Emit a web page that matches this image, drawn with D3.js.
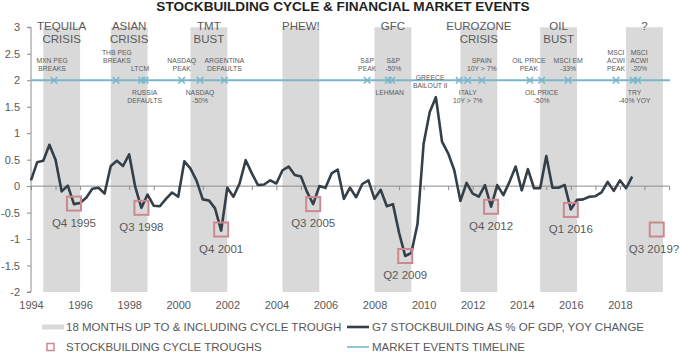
<!DOCTYPE html>
<html>
<head>
<meta charset="utf-8">
<script src="https://cdn.jsdelivr.net/npm/d3@7"></script>
<style>
  html, body { margin: 0; padding: 0; background: #fff; }
  svg { display: block; font-family: 'Liberation Sans', Arial, sans-serif; }
</style>
</head>
<body>
<div id="chart"></div>
<script>
// stockbuilding chart — G7 inventory cycle vs market events

// quarterly series, first value = 1994 Q1
const firstYear = 1994;
const stockbuilding = [
  0.11, 0.45, 0.48, 0.78, 0.50, -0.10, 0.01, -0.34,     // 1994-1995
  -0.32, -0.22, -0.05, -0.03, -0.14, 0.38, 0.48, 0.38,  // 1996-1997
  0.60, -0.02, -0.41, -0.16, -0.37, -0.38, -0.24, -0.12, // 1998-1999
  -0.20, 0.47, 0.33, 0.10, -0.25, -0.27, -0.42, -0.84,  // 2000-2001
  -0.03, -0.20, 0.05, 0.49, 0.24, 0.02, 0.03, 0.11,     // 2002-2003
  0.05, 0.30, 0.37, 0.21, 0.18, -0.11, -0.34, 0.00,     // 2004-2005
  -0.03, 0.24, 0.31, -0.24, -0.03, -0.21, 0.04, 0.11,   // 2006-2007
  -0.24, -0.07, -0.38, -0.34, -0.88, -1.32, -1.26, -0.72, // 2008-2009
  0.80, 1.40, 1.68, 0.84, 0.62, 0.30, -0.28, 0.06,      // 2010-2011
  -0.14, -0.20, 0.02, -0.39, 0.02, -0.17, 0.08, 0.37,   // 2012-2013
  -0.08, 0.32, -0.04, -0.04, 0.57, -0.03, -0.03, 0.02,  // 2014-2015
  -0.44, -0.26, -0.25, -0.20, -0.19, -0.12, 0.08, -0.09, // 2016-2017
  0.11, -0.04, 0.18                                     // 2018
];

// cycle troughs
const troughQuarters = ['Q4 1995', 'Q3 1998', 'Q4 2001', 'Q3 2005', 'Q2 2009', 'Q4 2012', 'Q1 2016', 'Q3 2019?'];
const troughValues = [-0.33, -0.41, -0.82, -0.34, -1.32, -0.39, -0.45, -0.82];
const cycleNames = [
  ['TEQUILA', 'CRISIS'], ['ASIAN', 'CRISIS'], ['TMT', 'BUST'], ['PHEW!'],
  ['GFC'], ['EUROZONE', 'CRISIS'], ['OIL', 'BUST'], ['?']
];

// market events on the timeline (decimal year)
const eventDates = [
  1994.94, 1997.46, 1998.51, 1998.65, 2000.14, 2000.89, 2001.88,
  2007.70, 2008.56, 2008.70, 2011.45, 2011.80, 2012.37,
  2014.33, 2014.81, 2015.89, 2017.84, 2018.54, 2018.72
];
const eventNames = [
  ['MXN PEG', 'BREAKS'], ['THB PEG', 'BREAKS'], ['RUSSIA', 'DEFAULTS'], ['LTCM'],
  ['NASDAQ', 'PEAK'], ['NASDAQ', '-50%'], ['ARGENTINA', 'DEFAULTS'],
  ['S&P', 'PEAK'], ['S&P', '-50%'], ['LEHMAN'], ['GREECE', 'BAILOUT II'],
  ['ITALY', '10Y > 7%'], ['SPAIN', '10Y > 7%'],
  ['OIL PRICE', 'PEAK'], ['OIL PRICE', '-50%'], ['MSCI EM', '-33%'],
  ['MSCI', 'ACWI', 'PEAK'], ['MSCI', 'ACWI', '-20%'], ['TRY', '-40% YOY']
];
const timelineLevel = 2;

// axes
const yTicks = [3, 2.5, 2, 1.5, 1, 0.5, 0, -0.5, -1, -1.5, -2];
const xLabelYears = [1994, 1996, 1998, 2000, 2002, 2004, 2006, 2008, 2010, 2012, 2014, 2016, 2018];

const legendItems = [
  '18 MONTHS UP TO & INCLUDING CYCLE TROUGH',
  'G7 STOCKBUILDING AS % OF GDP, YOY CHANGE',
  'STOCKBUILDING CYCLE TROUGHS',
  'MARKET EVENTS TIMELINE'
];

// label placement for the events: where the text sits against the marker
// pos: 'up' = above the line, 'down' = below, 'mid' = across the line
// lift: extra lines to push an 'up' label higher (avoid overlaps)
const eventPlacement = [
  { pos: 'up', dx: -2 }, { pos: 'up', dx: 1, lift: 1 }, { pos: 'down', dx: 3 }, { pos: 'up', dx: -5 },
  { pos: 'up', dx: 0 }, { pos: 'down', dx: 0 }, { pos: 'up', dx: 0 },
  { pos: 'up', dx: 0 }, { pos: 'up', dx: 5 }, { pos: 'down', dx: -2 }, { pos: 'mid', dx: -29 },
  { pos: 'down', dx: 0 }, { pos: 'up', dx: 0 },
  { pos: 'up', dx: -1 }, { pos: 'down', dx: 0 }, { pos: 'up', dx: 0 },
  { pos: 'up', dx: 0 }, { pos: 'up', dx: 6 }, { pos: 'down', dx: -3 }
];

const CONFIG = {
  WIDTH: 680,
  HEIGHT: 354,
  LEFT: 31,
  RIGHT: 669,
  TOP: 27.3,
  BOTTOM: 292,

  TEXT: '#595959',
  AXIS: '#8c8c8c',
  BAND: '#d9d9d9',
  LINE: '#353f47',
  TROUGH: '#cc8890',
  TIMELINE: '#7ab6c9',
};

const svg = d3.select('#chart').append('svg')
  .attr('width', CONFIG.WIDTH)
  .attr('height', CONFIG.HEIGHT);

const x = d3.scaleLinear().domain([1994, 2020]).range([CONFIG.LEFT, CONFIG.RIGHT]);
const y = d3.scaleLinear().domain([-2, 3]).range([CONFIG.BOTTOM, CONFIG.TOP]);

// "Q4 1995" -> 1995.75 (start of the quarter)
function quarterToYear(q) {
  const m = q.match(/Q(\d) (\d{4})/);
  return +m[2] + (+m[1] - 1) / 4;
}
const troughYears = troughQuarters.map(quarterToYear);

// shaded 18-month windows ending with the trough quarter
svg.append('g')
  .selectAll('rect')
  .data(troughYears)
  .join('rect')
  .attr('x', t => x(t + 0.25 - 1.5))
  .attr('width', t => x(t + 0.25) - x(t + 0.25 - 1.5))
  .attr('y', y(3))
  .attr('height', y(-2) - y(3))
  .attr('fill', CONFIG.BAND);

// y axis
const yAxis = svg.append('g')
  .attr('transform', `translate(${CONFIG.LEFT},0)`)
  .call(d3.axisLeft(y).tickValues(yTicks).tickSize(4).tickPadding(7).tickFormat(d => String(d)));
yAxis.select('.domain').attr('stroke', CONFIG.AXIS).attr('d', `M-4,${y(-2)}H0V${y(3)}H-4`);
yAxis.selectAll('.tick line').attr('stroke', CONFIG.AXIS);
yAxis.selectAll('.tick text')
  .attr('fill', CONFIG.TEXT)
  .style('font-size', '11px');

// zero line with yearly ticks
const zeroAxis = svg.append('g')
  .attr('transform', `translate(0,${y(0)})`)
  .call(d3.axisBottom(x).tickValues(d3.range(1994, 2021)).tickSize(4).tickFormat(''));
zeroAxis.select('.domain').attr('stroke', CONFIG.AXIS).attr('d', `M${CONFIG.LEFT},0H${CONFIG.RIGHT}`);
zeroAxis.selectAll('.tick line').attr('stroke', CONFIG.AXIS);

// year labels along the bottom
const xLabels = svg.append('g')
  .attr('transform', `translate(0,${y(-2)})`)
  .call(d3.axisBottom(x).tickValues(xLabelYears).tickSize(0).tickPadding(9).tickFormat(d3.format('d')));
xLabels.select('.domain').remove();
xLabels.selectAll('.tick text')
  .attr('fill', CONFIG.TEXT)
  .style('font-size', '11px');

// market events timeline
svg.append('line')
  .attr('x1', CONFIG.LEFT)
  .attr('x2', CONFIG.RIGHT + 1)
  .attr('y1', y(timelineLevel))
  .attr('y2', y(timelineLevel))
  .attr('stroke', CONFIG.TIMELINE)
  .attr('stroke-width', 2);

svg.append('g')
  .selectAll('path')
  .data(eventDates)
  .join('path')
  .attr('d', d3.symbol(d3.symbolX, 30))
  .attr('transform', d => `translate(${x(d)},${y(timelineLevel)})`)
  .attr('fill', 'none')
  .attr('stroke', CONFIG.TIMELINE)
  .attr('stroke-width', 1.6);

// event labels
const eventText = svg.append('g')
  .attr('fill', CONFIG.TEXT)
  .style('font-size', '6.8px')
  .attr('text-anchor', 'middle');

eventDates.forEach((d, i) => {
  const lines = eventNames[i];
  const place = eventPlacement[i];
  const lineH = 7.8;
  let firstY;
  if (place.pos === 'up') firstY = y(timelineLevel) - 9.5 - (lines.length - 1 + (place.lift || 0)) * lineH;
  else if (place.pos === 'down') firstY = y(timelineLevel) + 15;
  else firstY = y(timelineLevel) - 0.3;
  const t = eventText.append('text');
  lines.forEach((s, k) => {
    t.append('tspan')
      .attr('x', x(d) + place.dx)
      .attr('y', firstY + k * lineH)
      .text(s);
  });
});

// cycle names over each band
const cycleText = svg.append('g')
  .attr('fill', CONFIG.TEXT)
  .style('font-size', '11.5px')
  .attr('text-anchor', 'middle');

troughYears.forEach((t, i) => {
  const cx = x(t + 0.25 - 0.75);
  cycleNames[i].forEach((s, k) => {
    cycleText.append('text')
      .attr('x', cx)
      .attr('y', 30 + k * 13.3)
      .text(s);
  });
});

// stockbuilding line
const line = d3.line()
  .x((d, i) => x(firstYear + i / 4))
  .y(d => y(d));

svg.append('path')
  .datum(stockbuilding)
  .attr('d', line)
  .attr('fill', 'none')
  .attr('stroke', CONFIG.LINE)
  .attr('stroke-width', 2.6)
  .attr('stroke-linejoin', 'round');

// trough boxes + labels
const troughs = svg.append('g');
troughs.selectAll('rect')
  .data(troughYears)
  .join('rect')
  .attr('x', t => x(t) - 7)
  .attr('y', (t, i) => y(troughValues[i]) - 7)
  .attr('width', 14)
  .attr('height', 14)
  .attr('fill', 'none')
  .attr('stroke', CONFIG.TROUGH)
  .attr('stroke-width', 2);

troughs.selectAll('text')
  .data(troughYears)
  .join('text')
  .attr('x', t => Math.min(x(t), CONFIG.WIDTH - 26))
  .attr('y', (t, i) => y(troughValues[i]) + 23)
  .attr('text-anchor', 'middle')
  .attr('fill', CONFIG.TEXT)
  .style('font-size', '11.5px')
  .text((t, i) => troughQuarters[i]);

// title
svg.append('text')
  .attr('x', 343)
  .attr('y', 11)
  .attr('text-anchor', 'middle')
  .attr('fill', '#1f1f1f')
  .style('font-size', '13.6px')
  .style('font-weight', 'bold')
  .text('STOCKBUILDING CYCLE & FINANCIAL MARKET EVENTS');

// legend
const legend = svg.append('g')
  .attr('fill', CONFIG.TEXT)
  .style('font-size', '11.5px');

const rowY = [327, 347];
legend.append('rect').attr('x', 42).attr('y', rowY[0] - 2.5).attr('width', 22).attr('height', 5).attr('fill', CONFIG.BAND);
legend.append('line').attr('x1', 347).attr('x2', 369).attr('y1', rowY[0]).attr('y2', rowY[0])
  .attr('stroke', CONFIG.LINE).attr('stroke-width', 2.6);
legend.append('rect').attr('x', 47).attr('y', rowY[1] - 3.5).attr('width', 7).attr('height', 7)
  .attr('fill', 'none').attr('stroke', CONFIG.TROUGH).attr('stroke-width', 1.5);
legend.append('line').attr('x1', 347).attr('x2', 369).attr('y1', rowY[1]).attr('y2', rowY[1])
  .attr('stroke', CONFIG.TIMELINE).attr('stroke-width', 1.6);

const legendPos = [[66, rowY[0]], [372, rowY[0]], [66, rowY[1]], [372, rowY[1]]];
legend.selectAll('text')
  .data(legendItems)
  .join('text')
  .attr('x', (d, i) => legendPos[i][0])
  .attr('y', (d, i) => legendPos[i][1] + 4)
  .text(d => d);
</script>
</body>
</html>
